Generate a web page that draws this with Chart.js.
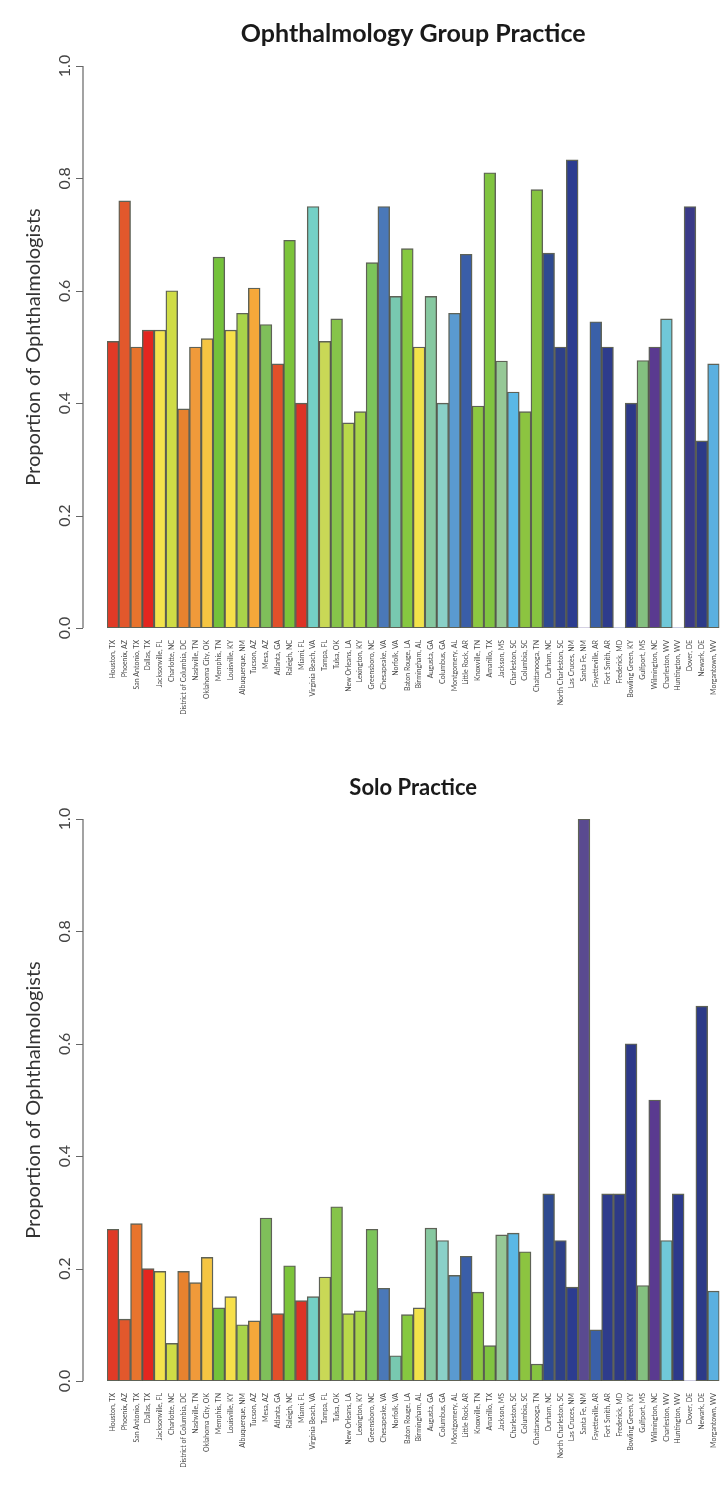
<!DOCTYPE html>
<html>
<head>
<meta charset="utf-8">
<script src="https://cdn.jsdelivr.net/npm/chart.js@4.4.1/dist/chart.umd.min.js"></script>
<style>
  html, body { margin: 0; padding: 0; background: #ffffff; }
  .panel { position: relative; width: 726px; height: 753px; }
  canvas { display: block; }
</style>
</head>
<body>
<div class="panel"><canvas id="groupChart" width="726" height="753"></canvas></div>
<div class="panel"><canvas id="soloChart" width="726" height="753"></canvas></div>
<script>
// Cities, in plotting order
const cities = [
  "Houston, TX", "Phoenix, AZ", "San Antonio, TX", "Dallas, TX", "Jacksonville, FL",
  "Charlotte, NC", "District of Columbia, DC", "Nashville, TN", "Oklahoma City, OK", "Memphis, TN",
  "Louisville, KY", "Albuquerque, NM", "Tucson, AZ", "Mesa, AZ", "Atlanta, GA",
  "Raleigh, NC", "Miami, FL", "Virginia Beach, VA", "Tampa, FL", "Tulsa, OK",
  "New Orleans, LA", "Lexington, KY", "Greensboro, NC", "Chesapeake, VA", "Norfolk, VA",
  "Baton Rouge, LA", "Birmingham, AL", "Augusta, GA", "Columbus, GA", "Montgomery, AL",
  "Little Rock, AR", "Knoxville, TN", "Amarillo, TX", "Jackson, MS", "Charleston, SC",
  "Columbia, SC", "Chattanooga, TN", "Durham, NC", "North Charleston, SC", "Las Cruces, NM",
  "Santa Fe, NM", "Fayetteville, AR", "Fort Smith, AR", "Frederick, MD", "Bowling Green, KY",
  "Gulfport, MS", "Wilmington, NC", "Charleston, WV", "Huntington, WV", "Dover, DE",
  "Newark, DE", "Morgantown, WV"
];

// Share of ophthalmologists in group practice, per city
const groupShares = [
  0.51, 0.76, 0.50, 0.53, 0.53, 0.60, 0.39, 0.50, 0.515, 0.66,
  0.53, 0.56, 0.605, 0.54, 0.47, 0.69, 0.40, 0.75, 0.51, 0.55,
  0.365, 0.385, 0.65, 0.75, 0.59, 0.675, 0.50, 0.59, 0.40, 0.56,
  0.665, 0.395, 0.81, 0.475, 0.42, 0.385, 0.78, 0.667, 0.50, 0.833,
  0, 0.545, 0.50, 0, 0.40, 0.476, 0.50, 0.55, 0, 0.75,
  0.333, 0.47
];

// Share of ophthalmologists in solo practice, per city
const soloShares = [
  0.27, 0.11, 0.28, 0.20, 0.195, 0.067, 0.195, 0.175, 0.22, 0.13,
  0.15, 0.10, 0.107, 0.29, 0.12, 0.205, 0.143, 0.15, 0.185, 0.31,
  0.12, 0.125, 0.27, 0.165, 0.045, 0.118, 0.13, 0.272, 0.25, 0.188,
  0.222, 0.158, 0.063, 0.26, 0.263, 0.23, 0.03, 0.333, 0.25, 0.167,
  1.0, 0.091, 0.333, 0.333, 0.6, 0.17, 0.5, 0.25, 0.333, 0,
  0.667, 0.16
];

// Value-axis ticks
const yTickValues = [0, 0.2, 0.4, 0.6, 0.8, 1.0];
const yTickLabels = ["0.0", "0.2", "0.4", "0.6", "0.8", "1.0"];

// One fill colour per city, shared by both panels
const cityColors = [
  "#e03a26", "#e2582c", "#e8742d", "#e3261f", "#f4e34c",
  "#cfdc46", "#e8822e", "#f09a3a", "#f5c542", "#74c23a",
  "#f7e04a", "#a9d44a", "#f5a83a", "#7fbf5a", "#e0502a",
  "#7cc43a", "#dd3326", "#74d0c6", "#c9d856", "#86c44a",
  "#b8d84a", "#a8d448", "#7cc45a", "#4a78b8", "#78c8b0",
  "#86c840", "#f2e24a", "#86c8a0", "#8ad0c8", "#5a9ad0",
  "#3a5ea8", "#8cc840", "#80c440", "#96c896", "#5ab8e6",
  "#8cc440", "#86c440", "#2e4a90", "#2e4088", "#2c3c90",
  "#5a4a90", "#3a60a8", "#2e3c8c", "#2e3a86", "#2c3888",
  "#84c080", "#5a3a90", "#70c8d8", "#2c3a8c", "#3a3a88",
  "#2c3a88", "#5ab0e0"
];

const FONT = "Lato, 'Open Sans', sans-serif";

// Draws an R-style value axis detached from the bars, with rotated labels
const detachedAxis = {
  id: 'detachedAxis',
  afterDraw(chart) {
    const { ctx, chartArea, scales } = chart;
    const y = scales.y;
    const axisX = chartArea.left - 24;
    const top = y.getPixelForValue(yTickValues[yTickValues.length - 1]);
    const bottom = y.getPixelForValue(yTickValues[0]);
    ctx.save();
    ctx.strokeStyle = '#666';
    ctx.lineWidth = 1.2;
    ctx.beginPath();
    ctx.moveTo(axisX, bottom);
    ctx.lineTo(axisX, top);
    yTickValues.forEach(v => {
      const py = Math.round(y.getPixelForValue(v)) + 0.5;
      ctx.moveTo(axisX, py);
      ctx.lineTo(axisX - 7, py);
    });
    ctx.stroke();

    ctx.fillStyle = '#444';
    ctx.font = `16px ${FONT}`;
    ctx.textAlign = 'center';
    ctx.textBaseline = 'middle';
    yTickValues.forEach((v, i) => {
      const py = y.getPixelForValue(v);
      ctx.save();
      ctx.translate(axisX - 18, py);
      ctx.rotate(-Math.PI / 2);
      ctx.fillText(yTickLabels[i], 0, 0);
      ctx.restore();
    });

    ctx.fillStyle = '#333';
    ctx.font = `20px ${FONT}`;
    ctx.save();
    ctx.translate(34, (top + bottom) / 2);
    ctx.rotate(-Math.PI / 2);
    ctx.fillText('Proportion of Ophthalmologists', 0, 0);
    ctx.restore();
    ctx.restore();
  }
};

function makeChart(canvasId, titleText, titleSize, values) {
  return new Chart(document.getElementById(canvasId), {
    type: 'bar',
    data: {
      labels: cities,
      datasets: [{
        data: values,
        backgroundColor: cityColors,
        borderColor: 'rgba(66,70,56,0.85)',
        borderWidth: ctx => (ctx.raw > 0 ? 1.4 : 0),
        borderSkipped: false,
        barPercentage: 1.0,
        categoryPercentage: 1.0
      }]
    },
    options: {
      responsive: false,
      animation: false,
      devicePixelRatio: 1,
      layout: { padding: { top: 0, left: 107, right: 3, bottom: 0 } },
      plugins: {
        legend: { display: false },
        tooltip: { enabled: false },
        title: {
          display: true,
          text: titleText,
          fullSize: false,
          color: '#1a1a1a',
          font: { family: FONT, size: titleSize, weight: 'bold', lineHeight: 1 },
          padding: { top: 46 - titleSize, bottom: 20 }
        }
      },
      scales: {
        x: {
          grid: { display: false },
          border: { display: false },
          afterFit: scale => { scale.height = 125; },
          ticks: {
            autoSkip: false,
            minRotation: 90,
            maxRotation: 90,
            padding: 4,
            color: '#4a4a4a',
            font: { family: FONT, size: 7 }
          }
        },
        y: {
          display: false,
          min: 0,
          max: 1
        }
      }
    },
    plugins: [detachedAxis]
  });
}

makeChart('groupChart', 'Ophthalmology Group Practice', 25, groupShares);
makeChart('soloChart', 'Solo Practice', 22, soloShares);
</script>
</body>
</html>
